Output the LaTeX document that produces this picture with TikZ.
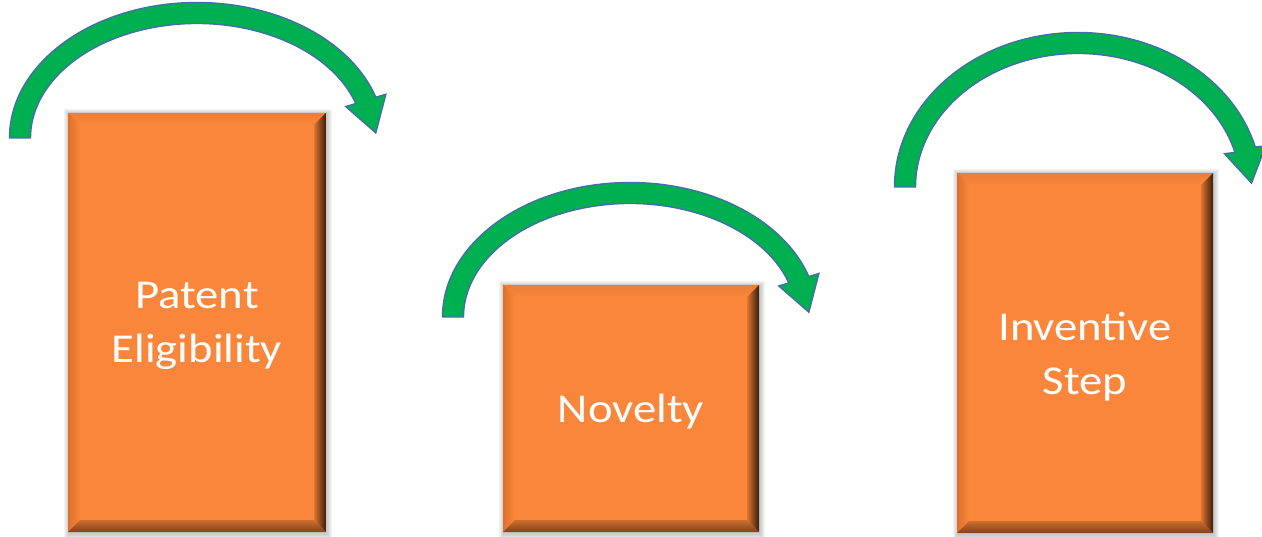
\documentclass[tikz,border=0pt]{standalone}
\usepackage{fontspec}
\setmainfont{Carlito}[FakeStretch=1.14]
\usetikzlibrary{calc,backgrounds}
\definecolor{boxorange}{RGB}{249,134,58}
\definecolor{bevtop}{RGB}{236,126,56}
\definecolor{bevlight}{RGB}{255,186,128}
\definecolor{bevrightA}{RGB}{222,116,46}
\definecolor{bevrightB}{RGB}{55,30,12}
\definecolor{bevbotA}{RGB}{205,110,45}
\definecolor{bevbotB}{RGB}{125,66,28}
\definecolor{bevleft}{RGB}{222,112,44}
\definecolor{arrowgreen}{RGB}{0,176,80}
\definecolor{arrowedge}{RGB}{68,110,170}
\tikzset{
  bevelbox/.style={fill=boxorange, inner sep=0pt, text=white, align=center,
    font=\fontsize{41}{54}\selectfont, text depth=0pt,
    path picture={
      \coordinate (pnw) at (path picture bounding box.north west);
      \coordinate (pne) at (path picture bounding box.north east);
      \coordinate (psw) at (path picture bounding box.south west);
      \coordinate (pse) at (path picture bounding box.south east);
      \shade[top color=bevtop, middle color=bevlight, bottom color=boxorange]
        (pnw) -- (pne) -- ($(pne)+(-12pt,-12pt)$) -- ($(pnw)+(12pt,-12pt)$) -- cycle;
      \shade[left color=bevleft, right color=boxorange]
        (pnw) -- (psw) -- ($(psw)+(12pt,12pt)$) -- ($(pnw)+(12pt,-12pt)$) -- cycle;
      \shade[top color=bevbotA, bottom color=bevbotB]
        (psw) -- (pse) -- ($(pse)+(-12pt,12pt)$) -- ($(psw)+(12pt,12pt)$) -- cycle;
      \shade[left color=bevrightA, right color=bevrightB]
        (pne) -- (pse) -- ($(pse)+(-12pt,12pt)$) -- ($(pne)+(-12pt,-12pt)$) -- cycle;
    }},
  arrowshape/.style={fill=arrowgreen, draw=arrowedge, line width=1.4pt, line join=miter},
  boxshadow/.style={fill=black, opacity=0.045}
}
% #1 cx, #2 cy, #3 rx, #4 ry, #5 end angle above horizontal
\newcommand{\greenarc}[5]{%
  \pgfmathsetmacro\ea{360-#5}%
  \pgfmathsetmacro\hw{10.5}%
  \pgfmathsetmacro\hh{21}%
  \pgfmathsetmacro\hl{34}%
  \pgfmathsetmacro\Ex{#1+#3*cos(\ea)}%
  \pgfmathsetmacro\Ey{#2+#4*sin(\ea)}%
  \pgfmathsetmacro\dx{-#3*sin(\ea)}%
  \pgfmathsetmacro\dy{#4*cos(\ea)}%
  \pgfmathsetmacro\dn{veclen(\dx,\dy)}%
  \pgfmathsetmacro\ua{\dx/\dn}%
  \pgfmathsetmacro\ub{\dy/\dn}%
  \pgfmathsetmacro\ux{\ua*cos(7)-\ub*sin(7)}%
  \pgfmathsetmacro\uy{\ua*sin(7)+\ub*cos(7)}%
  \pgfmathsetmacro\Ix{#1+(#3-\hw)*cos(\ea)}%
  \pgfmathsetmacro\Iy{#2+(#4-\hw)*sin(\ea)}%
  \pgfmathsetmacro\Px{\Ex+\hh*\uy}%
  \pgfmathsetmacro\Py{\Ey-\hh*\ux}%
  \pgfmathsetmacro\Qx{\Ex-\hh*\uy}%
  \pgfmathsetmacro\Qy{\Ey+\hh*\ux}%
  \pgfmathsetmacro\Tx{\Ex+\hl*\ux}%
  \pgfmathsetmacro\Ty{\Ey+\hl*\uy}%
  \pgfmathsetmacro\Sx{#1-#3-\hw}%
  \pgfmathsetmacro\Rx{#3+\hw}%
  \pgfmathsetmacro\Ry{#4+\hw}%
  \pgfmathsetmacro\rx{#3-\hw}%
  \pgfmathsetmacro\ry{#4-\hw}%
  \path[arrowshape] (\Sx,#2) arc[start angle=180, end angle=\ea, x radius=\Rx, y radius=\Ry]
    -- (\Px,\Py) -- (\Tx,\Ty) -- (\Qx,\Qy) -- (\Ix,\Iy)
    arc[start angle=\ea, end angle=180, x radius=\rx, y radius=\ry] -- cycle;
}
\begin{document}
\begin{tikzpicture}[x=1pt, y=-1pt]
\useasboundingbox (0,0) rectangle (1262,537);
\clip (0,0) rectangle (1262,537);

\node[bevelbox, minimum width=258pt, minimum height=419pt] (b1) at (197,322.5) {Patent\\Eligibility};
\node[bevelbox, minimum width=256pt, minimum height=247pt] (b2) at (631,408.5) {Novelty};
\node[bevelbox, minimum width=256pt, minimum height=360pt] (b3) at (1085,353) {Inventive\\Step};

\begin{scope}[on background layer]
  \foreach \b in {b1,b2,b3}{
    \foreach \i in {1,...,5}{
      \fill[boxshadow] ($(\b.north west)+(-\i*1pt+1pt,\i*1pt-1pt)$) rectangle ($(\b.south east)+(\i*1pt+1pt,-\i*1pt-1.5pt)$);
    }
  }
\end{scope}

\greenarc{197}{138}{177}{125}{17.5}
\greenarc{630}{317}{177}{124}{17.5}
\greenarc{1078}{187}{173}{144}{15}
\end{tikzpicture}
\end{document}
